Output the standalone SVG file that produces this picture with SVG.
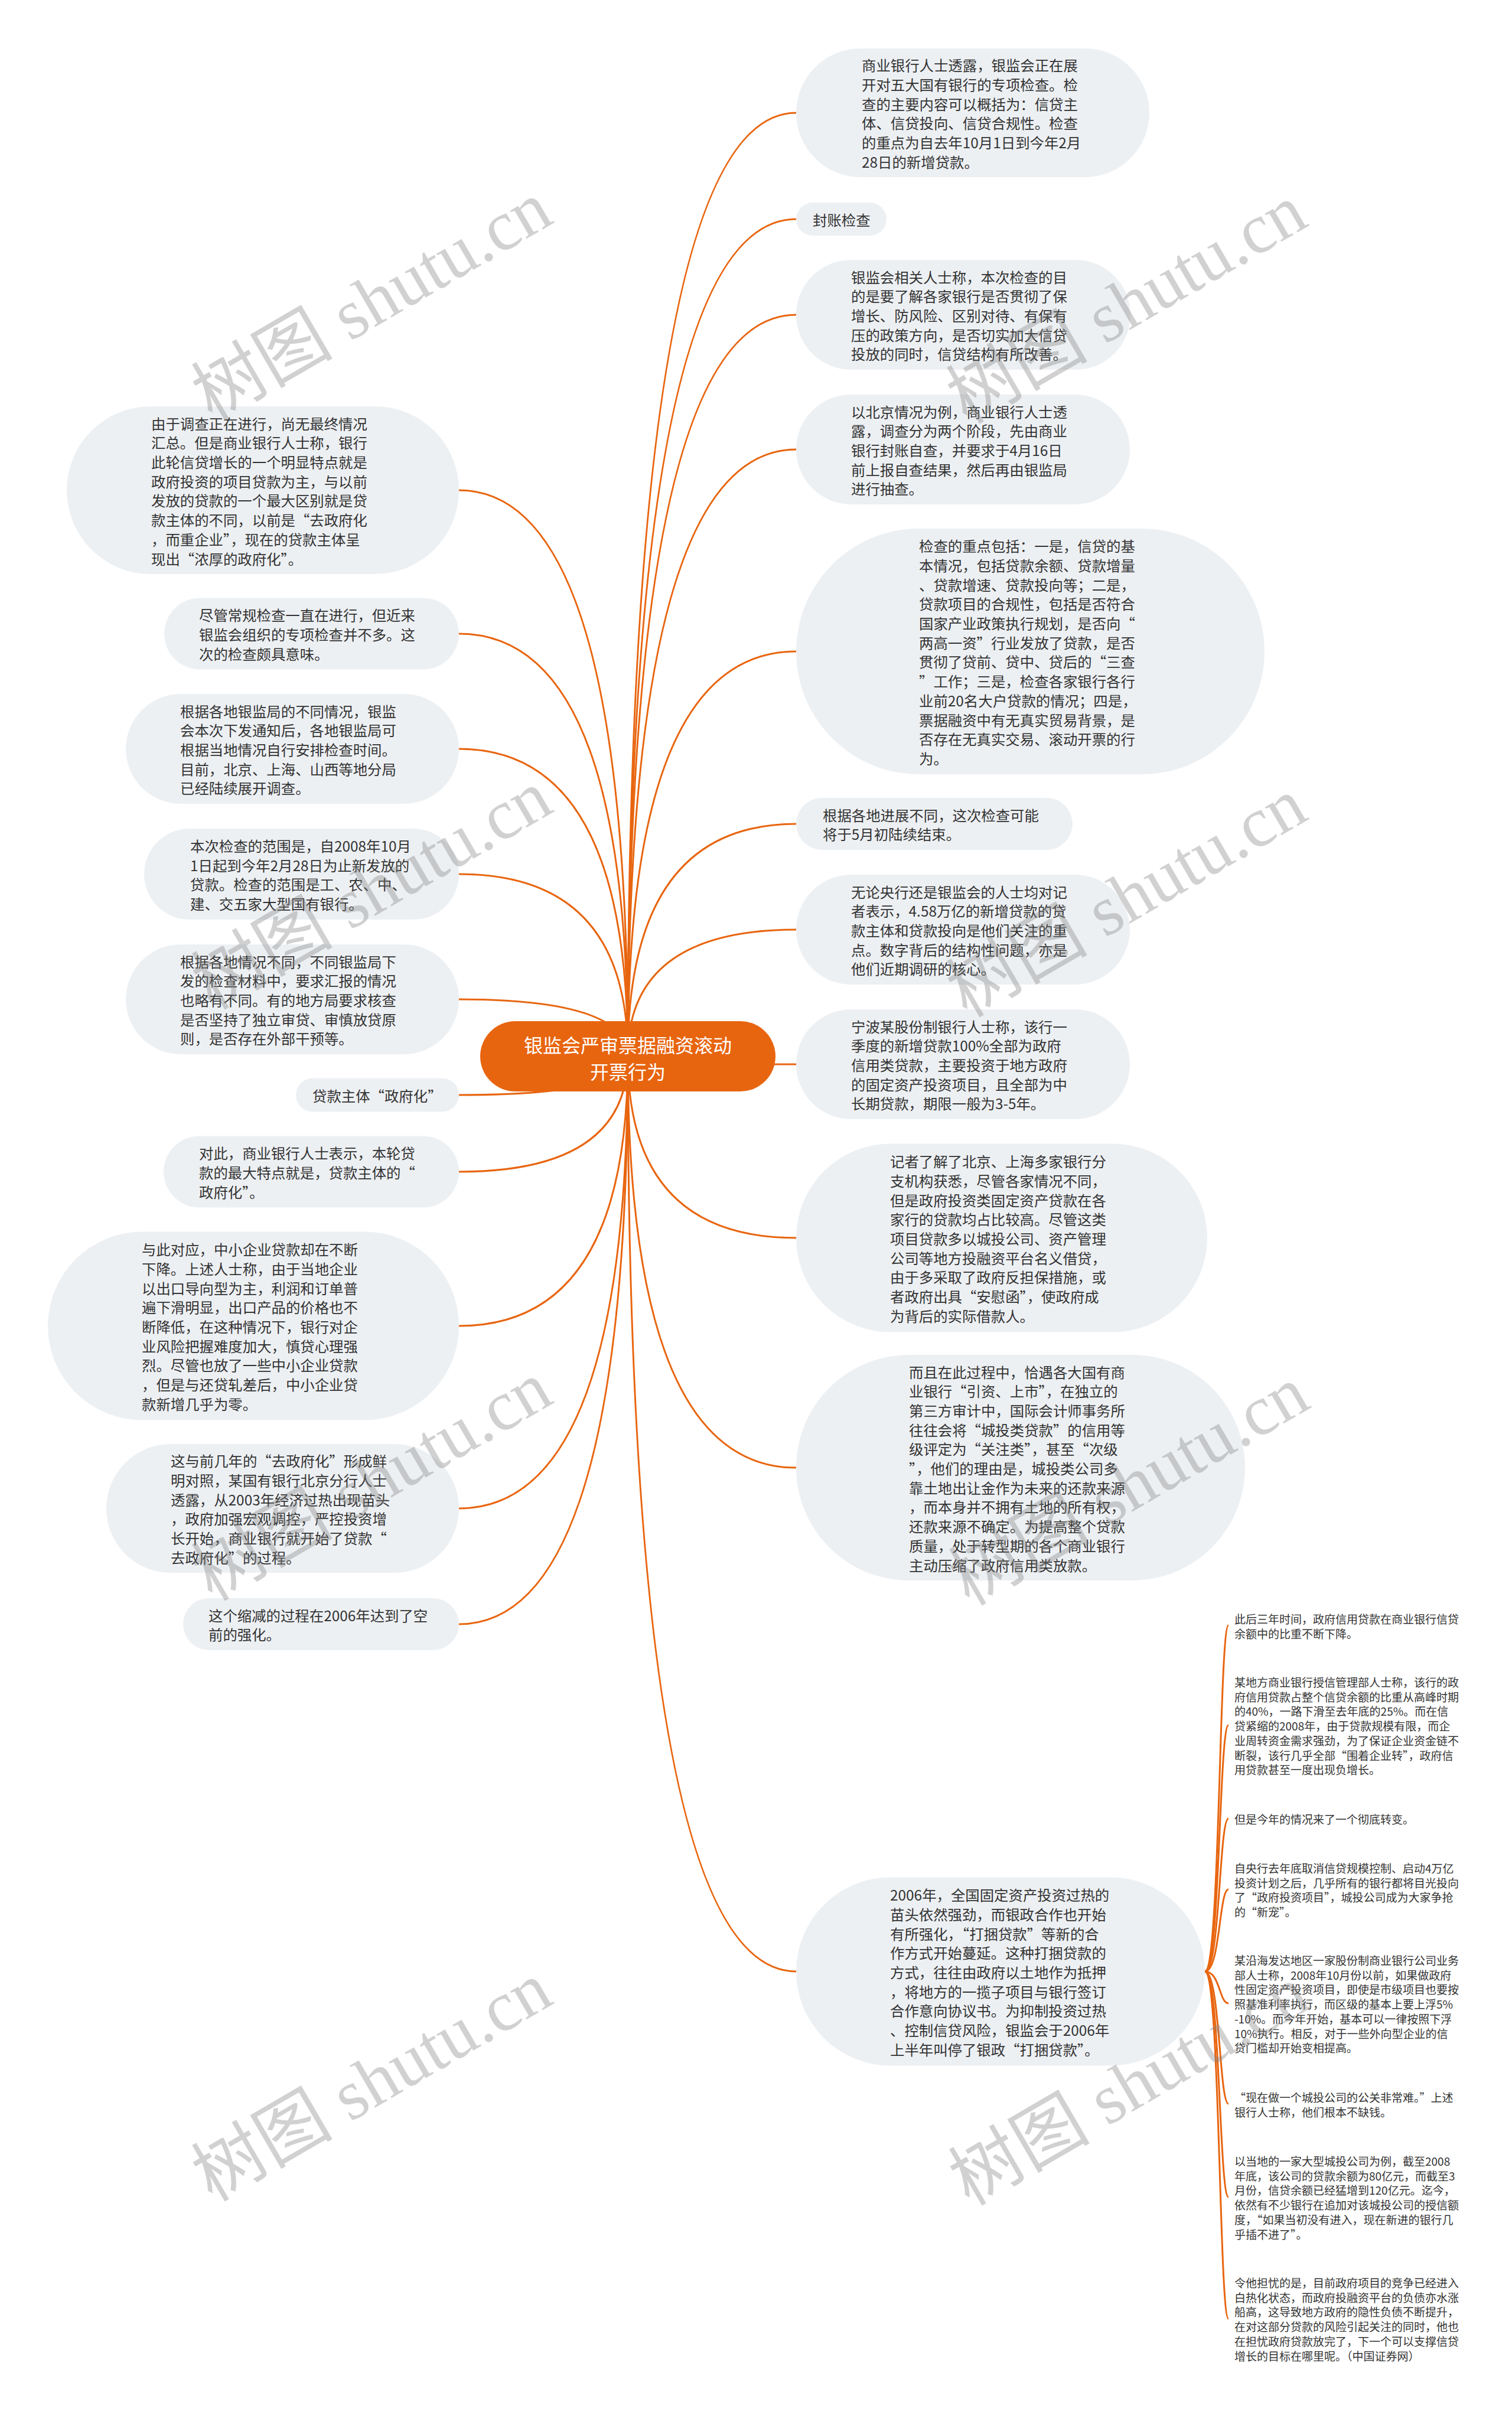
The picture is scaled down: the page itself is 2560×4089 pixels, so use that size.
<svg xmlns="http://www.w3.org/2000/svg" width="2560" height="4089" viewBox="0 0 2560 4089">
<style>
.bg{fill:#ffffff}
.node rect{fill:#EDF0F3}
text{font-family:"Noto Sans CJK SC","Noto Sans",sans-serif;dominant-baseline:central}
.t{font-size:24.4px;fill:#333333}
.f{font-size:19px;fill:#333333}
.root rect{fill:#E8650F}
.root text{fill:#ffffff;font-size:32px;text-anchor:middle}
.conn path{fill:none;stroke:#E8650F;stroke-width:3}
.wm text{font-family:"Liberation Serif","Noto Sans CJK SC",serif;font-size:120px;fill:#808080;fill-opacity:0.36;text-anchor:middle;dominant-baseline:alphabetic}
</style>
<rect class="bg" x="0" y="0" width="2560" height="4089"/>
<g id="connectors" class="conn">
<path d="M1063 1788 Q1063 191 1348 191"/>
<path d="M1063 1788 Q1063 371 1348 371"/>
<path d="M1063 1788 Q1063 533 1348 533"/>
<path d="M1063 1788 Q1063 761 1348 761"/>
<path d="M1063 1788 Q1063 1103 1348 1103"/>
<path d="M1063 1788 Q1063 1395 1348 1395"/>
<path d="M1063 1788 Q1063 1574 1348 1574"/>
<path d="M1063 1788 Q1063 1802 1348 1802"/>
<path d="M1063 1788 Q1063 2096 1348 2096"/>
<path d="M1063 1788 Q1063 2485 1348 2485"/>
<path d="M1063 1788 Q1063 3338 1348 3338"/>
<path d="M1063 1788 Q1063 830 777 830"/>
<path d="M1063 1788 Q1063 1073 777 1073"/>
<path d="M1063 1788 Q1063 1268 777 1268"/>
<path d="M1063 1788 Q1063 1480 777 1480"/>
<path d="M1063 1788 Q1063 1692 777 1692"/>
<path d="M1063 1788 Q1063 1854 777 1854"/>
<path d="M1063 1788 Q1063 1984 777 1984"/>
<path d="M1063 1788 Q1063 2245 777 2245"/>
<path d="M1063 1788 Q1063 2554 777 2554"/>
<path d="M1063 1788 Q1063 2750 777 2750"/>
<path d="M2040 3338 C2066 3338 2064 2752 2080 2752"/>
<path d="M2040 3338 C2066 3338 2064 2921 2080 2921"/>
<path d="M2040 3338 C2066 3338 2064 3079 2080 3079"/>
<path d="M2040 3338 C2066 3338 2064 3199 2080 3199"/>
<path d="M2040 3338 C2066 3338 2064 3392 2080 3392"/>
<path d="M2040 3338 C2066 3338 2064 3562 2080 3562"/>
<path d="M2040 3338 C2066 3338 2064 3720 2080 3720"/>
<path d="M2040 3338 C2066 3338 2064 3926 2080 3926"/>
</g>
<g id="root" class="root">
<rect x="813" y="1729" width="500" height="119" rx="59.5"/>
<text><tspan x="1063" y="1768">银监会严审票据融资滚动</tspan><tspan x="1063" y="1813">开票行为</tspan></text>
</g>
<g id="r1" class="node"><rect x="1348" y="82" width="598" height="218" rx="109"/>
<text class="t"><tspan x="1459" y="109.3">商业银行人士透露，银监会正在展</tspan><tspan x="1459" y="142">开对五大国有银行的专项检查。检</tspan><tspan x="1459" y="174.7">查的主要内容可以概括为：信贷主</tspan><tspan x="1459" y="207.4">体、信贷投向、信贷合规性。检查</tspan><tspan x="1459" y="240.1">的重点为自去年10月1日到今年2月</tspan><tspan x="1459" y="272.8">28日的新增贷款。</tspan></text></g>
<g id="r2" class="node"><rect x="1348" y="343" width="153" height="56" rx="28"/>
<text class="t"><tspan x="1376" y="371">封账检查</tspan></text></g>
<g id="r3" class="node"><rect x="1348" y="440" width="566" height="186" rx="93"/>
<text class="t"><tspan x="1441" y="467.6">银监会相关人士称，本次检查的目</tspan><tspan x="1441" y="500.3">的是要了解各家银行是否贯彻了保</tspan><tspan x="1441" y="533">增长、防风险、区别对待、有保有</tspan><tspan x="1441" y="565.7">压的政策方向，是否切实加大信贷</tspan><tspan x="1441" y="598.4">投放的同时，信贷结构有所改善。</tspan></text></g>
<g id="r4" class="node"><rect x="1348" y="668" width="565" height="186" rx="93"/>
<text class="t"><tspan x="1441" y="695.6">以北京情况为例，商业银行人士透</tspan><tspan x="1441" y="728.3">露，调查分为两个阶段，先由商业</tspan><tspan x="1441" y="761">银行封账自查，并要求于4月16日</tspan><tspan x="1441" y="793.7">前上报自查结果，然后再由银监局</tspan><tspan x="1441" y="826.4">进行抽查。</tspan></text></g>
<g id="r5" class="node"><rect x="1348" y="895" width="793" height="416" rx="208"/>
<text class="t"><tspan x="1556" y="923.2">检查的重点包括：一是，信贷的基</tspan><tspan x="1556" y="955.9">本情况，包括贷款余额、贷款增量</tspan><tspan x="1556" y="988.6">、贷款增速、贷款投向等；二是，</tspan><tspan x="1556" y="1021.3">贷款项目的合规性，包括是否符合</tspan><tspan x="1556" y="1054">国家产业政策执行规划，是否向“</tspan><tspan x="1556" y="1086.7">两高一资”行业发放了贷款，是否</tspan><tspan x="1556" y="1119.4">贯彻了贷前、贷中、贷后的“三查</tspan><tspan x="1556" y="1152.1">”工作；三是，检查各家银行各行</tspan><tspan x="1556" y="1184.8">业前20名大户贷款的情况；四是，</tspan><tspan x="1556" y="1217.5">票据融资中有无真实贸易背景，是</tspan><tspan x="1556" y="1250.2">否存在无真实交易、滚动开票的行</tspan><tspan x="1556" y="1282.9">为。</tspan></text></g>
<g id="r6" class="node"><rect x="1348" y="1351" width="468" height="88" rx="44"/>
<text class="t"><tspan x="1393" y="1378.7">根据各地进展不同，这次检查可能</tspan><tspan x="1393" y="1411.4">将于5月初陆续结束。</tspan></text></g>
<g id="r7" class="node"><rect x="1348" y="1481" width="565" height="186" rx="93"/>
<text class="t"><tspan x="1441" y="1508.6">无论央行还是银监会的人士均对记</tspan><tspan x="1441" y="1541.3">者表示，4.58万亿的新增贷款的贷</tspan><tspan x="1441" y="1574">款主体和贷款投向是他们关注的重</tspan><tspan x="1441" y="1606.7">点。数字背后的结构性问题，亦是</tspan><tspan x="1441" y="1639.4">他们近期调研的核心。</tspan></text></g>
<g id="r8" class="node"><rect x="1348" y="1709" width="565" height="186" rx="93"/>
<text class="t"><tspan x="1441" y="1736.6">宁波某股份制银行人士称，该行一</tspan><tspan x="1441" y="1769.3">季度的新增贷款100%全部为政府</tspan><tspan x="1441" y="1802">信用类贷款，主要投资于地方政府</tspan><tspan x="1441" y="1834.7">的固定资产投资项目，且全部为中</tspan><tspan x="1441" y="1867.4">长期贷款，期限一般为3-5年。</tspan></text></g>
<g id="r9" class="node"><rect x="1348" y="1936.5" width="696" height="319" rx="159.5"/>
<text class="t"><tspan x="1507" y="1965.2">记者了解了北京、上海多家银行分</tspan><tspan x="1507" y="1997.9">支机构获悉，尽管各家情况不同，</tspan><tspan x="1507" y="2030.6">但是政府投资类固定资产贷款在各</tspan><tspan x="1507" y="2063.3">家行的贷款均占比较高。尽管这类</tspan><tspan x="1507" y="2096">项目贷款多以城投公司、资产管理</tspan><tspan x="1507" y="2128.7">公司等地方投融资平台名义借贷，</tspan><tspan x="1507" y="2161.4">由于多采取了政府反担保措施，或</tspan><tspan x="1507" y="2194.1">者政府出具“安慰函”，使政府成</tspan><tspan x="1507" y="2226.8">为背后的实际借款人。</tspan></text></g>
<g id="r10" class="node"><rect x="1348" y="2294" width="760" height="382" rx="191"/>
<text class="t"><tspan x="1539" y="2321.5">而且在此过程中，恰遇各大国有商</tspan><tspan x="1539" y="2354.2">业银行“引资、上市”，在独立的</tspan><tspan x="1539" y="2386.9">第三方审计中，国际会计师事务所</tspan><tspan x="1539" y="2419.6">往往会将“城投类贷款”的信用等</tspan><tspan x="1539" y="2452.3">级评定为“关注类”，甚至“次级</tspan><tspan x="1539" y="2485">”，他们的理由是，城投类公司多</tspan><tspan x="1539" y="2517.7">靠土地出让金作为未来的还款来源</tspan><tspan x="1539" y="2550.4">，而本身并不拥有土地的所有权，</tspan><tspan x="1539" y="2583.1">还款来源不确定。为提高整个贷款</tspan><tspan x="1539" y="2615.8">质量，处于转型期的各个商业银行</tspan><tspan x="1539" y="2648.5">主动压缩了政府信用类放款。</tspan></text></g>
<g id="r11" class="node"><rect x="1348" y="3178.5" width="692" height="319" rx="159.5"/>
<text class="t"><tspan x="1507" y="3207.2">2006年，全国固定资产投资过热的</tspan><tspan x="1507" y="3239.9">苗头依然强劲，而银政合作也开始</tspan><tspan x="1507" y="3272.6">有所强化，“打捆贷款”等新的合</tspan><tspan x="1507" y="3305.3">作方式开始蔓延。这种打捆贷款的</tspan><tspan x="1507" y="3338">方式，往往由政府以土地作为抵押</tspan><tspan x="1507" y="3370.7">，将地方的一揽子项目与银行签订</tspan><tspan x="1507" y="3403.4">合作意向协议书。为抑制投资过热</tspan><tspan x="1507" y="3436.1">、控制信贷风险，银监会于2006年</tspan><tspan x="1507" y="3468.8">上半年叫停了银政“打捆贷款”。</tspan></text></g>
<g id="l1" class="node"><rect x="113" y="688" width="664" height="284" rx="142"/>
<text class="t"><tspan x="256" y="715.6">由于调查正在进行，尚无最终情况</tspan><tspan x="256" y="748.3">汇总。但是商业银行人士称，银行</tspan><tspan x="256" y="781">此轮信贷增长的一个明显特点就是</tspan><tspan x="256" y="813.7">政府投资的项目贷款为主，与以前</tspan><tspan x="256" y="846.4">发放的贷款的一个最大区别就是贷</tspan><tspan x="256" y="879.1">款主体的不同，以前是“去政府化</tspan><tspan x="256" y="911.8">，而重企业”，现在的贷款主体呈</tspan><tspan x="256" y="944.5">现出“浓厚的政府化”。</tspan></text></g>
<g id="l2" class="node"><rect x="278" y="1012.5" width="499" height="121" rx="60.5"/>
<text class="t"><tspan x="337" y="1040.3">尽管常规检查一直在进行，但近来</tspan><tspan x="337" y="1073">银监会组织的专项检查并不多。这</tspan><tspan x="337" y="1105.7">次的检查颇具意味。</tspan></text></g>
<g id="l3" class="node"><rect x="213" y="1175" width="564" height="186" rx="93"/>
<text class="t"><tspan x="305" y="1202.6">根据各地银监局的不同情况，银监</tspan><tspan x="305" y="1235.3">会本次下发通知后，各地银监局可</tspan><tspan x="305" y="1268">根据当地情况自行安排检查时间。</tspan><tspan x="305" y="1300.7">目前，北京、上海、山西等地分局</tspan><tspan x="305" y="1333.4">已经陆续展开调查。</tspan></text></g>
<g id="l4" class="node"><rect x="244" y="1403" width="533" height="154" rx="77"/>
<text class="t"><tspan x="322" y="1431">本次检查的范围是，自2008年10月</tspan><tspan x="322" y="1463.7">1日起到今年2月28日为止新发放的</tspan><tspan x="322" y="1496.4">贷款。检查的范围是工、农、中、</tspan><tspan x="322" y="1529.1">建、交五家大型国有银行。</tspan></text></g>
<g id="l5" class="node"><rect x="213" y="1599" width="564" height="186" rx="93"/>
<text class="t"><tspan x="305" y="1626.6">根据各地情况不同，不同银监局下</tspan><tspan x="305" y="1659.3">发的检查材料中，要求汇报的情况</tspan><tspan x="305" y="1692">也略有不同。有的地方局要求核查</tspan><tspan x="305" y="1724.7">是否坚持了独立审贷、审慎放贷原</tspan><tspan x="305" y="1757.4">则，是否存在外部干预等。</tspan></text></g>
<g id="l6" class="node"><rect x="501" y="1825.5" width="276" height="57" rx="28.5"/>
<text class="t"><tspan x="529" y="1854">贷款主体“政府化”</tspan></text></g>
<g id="l7" class="node"><rect x="277" y="1923.5" width="500" height="121" rx="60.5"/>
<text class="t"><tspan x="337" y="1951.3">对此，商业银行人士表示，本轮贷</tspan><tspan x="337" y="1984">款的最大特点就是，贷款主体的“</tspan><tspan x="337" y="2016.7">政府化”。</tspan></text></g>
<g id="l8" class="node"><rect x="81" y="2085.5" width="696" height="319" rx="159.5"/>
<text class="t"><tspan x="240" y="2114.2">与此对应，中小企业贷款却在不断</tspan><tspan x="240" y="2146.9">下降。上述人士称，由于当地企业</tspan><tspan x="240" y="2179.6">以出口导向型为主，利润和订单普</tspan><tspan x="240" y="2212.3">遍下滑明显，出口产品的价格也不</tspan><tspan x="240" y="2245">断降低，在这种情况下，银行对企</tspan><tspan x="240" y="2277.7">业风险把握难度加大，慎贷心理强</tspan><tspan x="240" y="2310.4">烈。尽管也放了一些中小企业贷款</tspan><tspan x="240" y="2343.1">，但是与还贷轧差后，中小企业贷</tspan><tspan x="240" y="2375.8">款新增几乎为零。</tspan></text></g>
<g id="l9" class="node"><rect x="180" y="2445" width="597" height="218" rx="109"/>
<text class="t"><tspan x="289" y="2472.3">这与前几年的“去政府化”形成鲜</tspan><tspan x="289" y="2505">明对照，某国有银行北京分行人士</tspan><tspan x="289" y="2537.7">透露，从2003年经济过热出现苗头</tspan><tspan x="289" y="2570.4">，政府加强宏观调控，严控投资增</tspan><tspan x="289" y="2603.1">长开始，商业银行就开始了贷款“</tspan><tspan x="289" y="2635.8">去政府化”的过程。</tspan></text></g>
<g id="l10" class="node"><rect x="310" y="2706" width="467" height="88" rx="44"/>
<text class="t"><tspan x="353" y="2733.7">这个缩减的过程在2006年达到了空</tspan><tspan x="353" y="2766.4">前的强化。</tspan></text></g>
<g id="f1"><text class="f"><tspan x="2090" y="2740">此后三年时间，政府信用贷款在商业银行信贷</tspan><tspan x="2090" y="2764.7">余额中的比重不断下降。</tspan></text></g>
<g id="f2"><text class="f"><tspan x="2090" y="2847">某地方商业银行授信管理部人士称，该行的政</tspan><tspan x="2090" y="2871.7">府信用贷款占整个信贷余额的比重从高峰时期</tspan><tspan x="2090" y="2896.4">的40%，一路下滑至去年底的25%。而在信</tspan><tspan x="2090" y="2921.1">贷紧缩的2008年，由于贷款规模有限，而企</tspan><tspan x="2090" y="2945.8">业周转资金需求强劲，为了保证企业资金链不</tspan><tspan x="2090" y="2970.5">断裂，该行几乎全部“围着企业转”，政府信</tspan><tspan x="2090" y="2995.2">用贷款甚至一度出现负增长。</tspan></text></g>
<g id="f3"><text class="f"><tspan x="2090" y="3079">但是今年的情况来了一个彻底转变。</tspan></text></g>
<g id="f4"><text class="f"><tspan x="2090" y="3162">自央行去年底取消信贷规模控制、启动4万亿</tspan><tspan x="2090" y="3186.7">投资计划之后，几乎所有的银行都将目光投向</tspan><tspan x="2090" y="3211.4">了“政府投资项目”，城投公司成为大家争抢</tspan><tspan x="2090" y="3236.1">的“新宠”。</tspan></text></g>
<g id="f5"><text class="f"><tspan x="2090" y="3318">某沿海发达地区一家股份制商业银行公司业务</tspan><tspan x="2090" y="3342.7">部人士称，2008年10月份以前，如果做政府</tspan><tspan x="2090" y="3367.4">性固定资产投资项目，即使是市级项目也要按</tspan><tspan x="2090" y="3392.1">照基准利率执行，而区级的基本上要上浮5%</tspan><tspan x="2090" y="3416.8">-10%。而今年开始，基本可以一律按照下浮</tspan><tspan x="2090" y="3441.5">10%执行。相反，对于一些外向型企业的信</tspan><tspan x="2090" y="3466.2">贷门槛却开始变相提高。</tspan></text></g>
<g id="f6"><text class="f"><tspan x="2090" y="3550">“现在做一个城投公司的公关非常难。”上述</tspan><tspan x="2090" y="3574.7">银行人士称，他们根本不缺钱。</tspan></text></g>
<g id="f7"><text class="f"><tspan x="2090" y="3658">以当地的一家大型城投公司为例，截至2008</tspan><tspan x="2090" y="3682.7">年底，该公司的贷款余额为80亿元，而截至3</tspan><tspan x="2090" y="3707.4">月份，信贷余额已经猛增到120亿元。迄今，</tspan><tspan x="2090" y="3732.1">依然有不少银行在追加对该城投公司的授信额</tspan><tspan x="2090" y="3756.8">度，“如果当初没有进入，现在新进的银行几</tspan><tspan x="2090" y="3781.5">乎插不进了”。</tspan></text></g>
<g id="f8"><text class="f"><tspan x="2090" y="3864">令他担忧的是，目前政府项目的竞争已经进入</tspan><tspan x="2090" y="3888.7">白热化状态，而政府投融资平台的负债亦水涨</tspan><tspan x="2090" y="3913.4">船高，这导致地方政府的隐性负债不断提升，</tspan><tspan x="2090" y="3938.1">在对这部分贷款的风险引起关注的同时，他也</tspan><tspan x="2090" y="3962.8">在担忧政府贷款放完了，下一个可以支撑信贷</tspan><tspan x="2090" y="3987.5">增长的目标在哪里呢。（中国证券网）</tspan></text></g>
<g id="watermarks" class="wm">
<text transform="translate(650 545) rotate(-30.2)">树图 shutu.cn</text>
<text transform="translate(1928 550) rotate(-30.2)">树图 shutu.cn</text>
<text transform="translate(650 1542) rotate(-30.2)">树图 shutu.cn</text>
<text transform="translate(1928 1555) rotate(-30.2)">树图 shutu.cn</text>
<text transform="translate(650 2543) rotate(-30.2)">树图 shutu.cn</text>
<text transform="translate(1932 2551) rotate(-30.2)">树图 shutu.cn</text>
<text transform="translate(650 3560) rotate(-30.2)">树图 shutu.cn</text>
<text transform="translate(1932 3567) rotate(-30.2)">树图 shutu.cn</text>
</g>
</svg>
